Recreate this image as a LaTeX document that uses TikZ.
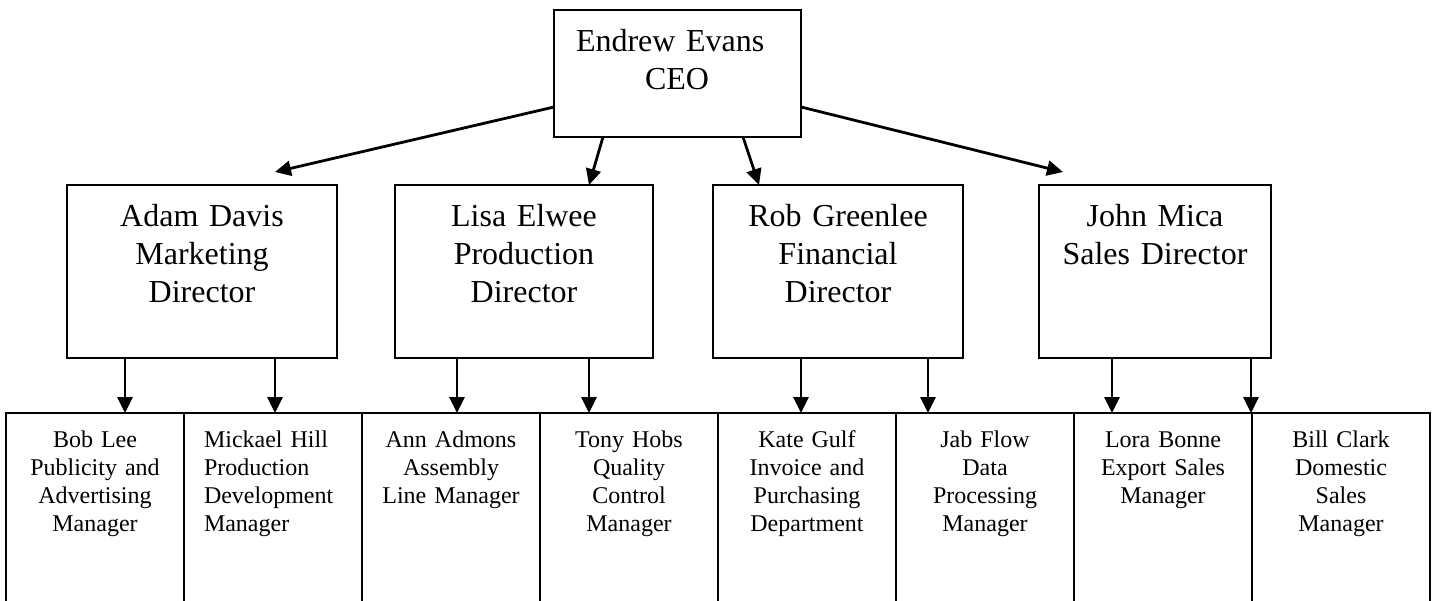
\documentclass[tikz,border=0pt]{standalone}
\usepackage{fontspec}
\setmainfont{Liberation Serif}
\usetikzlibrary{arrows.meta,positioning,calc}
\newcommand{\dirfont}{\fontsize{16}{19.2}\selectfont}
\newcommand{\mgrfont}{\fontsize{12}{14}\selectfont}
\tikzset{
  >={Triangle[length=8pt,width=7.5pt]},
  box/.style={draw=black,line width=1pt,outer sep=0pt,fill=white},
  arr/.style={->,draw=black,line width=1.4pt},
}

\begin{document}
\begin{tikzpicture}[x=0.5pt,y=-0.5pt,
  ceobox/.style={box,anchor=north,font=\dirfont,align=left,inner xsep=11pt,inner ysep=8.5pt,text width=101.5pt,text height=12pt,text depth=34.5pt},
  dirbox/.style={box,anchor=north,font=\dirfont,align=center,inner xsep=4pt,inner ysep=8.5pt,text width=#1,text height=12pt,text depth=57.5pt},
  mgrbox/.style={box,font=\mgrfont,align=center,inner xsep=7pt,inner ysep=8pt,text width=75pt,text height=9pt,text depth=78.5pt}]
\useasboundingbox (0,0) rectangle (1435,600);
\node[ceobox] (ceo) at (677.5,10) {Endrew Evans\\\hspace*{34.5pt}CEO};
\node[dirbox=127pt] (adam) at (202,185) {Adam Davis\\Marketing\\Director};
\node[dirbox=121pt] (lisa) at (524,185) {Lisa Elwee\\Production\\Director};
\node[dirbox=117pt] (rob) at (838,185) {Rob Greenlee\\Financial\\Director};
\node[dirbox=108pt] (john) at (1155,185) {John Mica\\Sales Director};
\node[mgrbox,anchor=north west] (bob) at (6,413) {Bob Lee\\Publicity and\\Advertising\\Manager};
\node[mgrbox,align=left,inner xsep=10pt,text width=69pt,right=0pt of bob] (mickael) {Mickael Hill\\Production\\Development\\Manager};
\node[mgrbox,right=0pt of mickael] (ann) {Ann Admons\\Assembly\\Line Manager};
\node[mgrbox,right=0pt of ann] (tony) {Tony Hobs\\Quality\\Control\\Manager};
\node[mgrbox,right=0pt of tony] (kate) {Kate Gulf\\Invoice and\\Purchasing\\Department};
\node[mgrbox,right=0pt of kate] (jab) {Jab Flow\\Data\\Processing\\Manager};
\node[mgrbox,right=0pt of jab] (lora) {Lora Bonne\\Export Sales\\Manager};
\node[mgrbox,right=0pt of lora] (bill) {Bill Clark\\Domestic\\Sales\\Manager};
\draw[arr] ($(ceo.south west)+(0,-30)$) -- ($(adam.north)+(73,-13)$);
\draw[arr] ($(ceo.south)+(-74.5,0)$) -- ($(lisa.north)+(65,0)$);
\draw[arr] ($(ceo.south)+(65.5,0)$) -- ($(rob.north)+(-79,0)$);
\draw[arr] ($(ceo.south east)+(0,-30)$) -- ($(john.north)+(-92,-13)$);
\draw[arr] ($(adam.south west)+(58,0)$) coordinate (t) -- (t |- bob.north);
\draw[arr] ($(adam.south west)+(208,0)$) coordinate (t) -- (t |- mickael.north);
\draw[arr] ($(lisa.south west)+(62,0)$) coordinate (t) -- (t |- ann.north);
\draw[arr] ($(lisa.south west)+(194,0)$) coordinate (t) -- (t |- tony.north);
\draw[arr] ($(rob.south west)+(88,0)$) coordinate (t) -- (t |- kate.north);
\draw[arr] ($(rob.south west)+(215,0)$) coordinate (t) -- (t |- jab.north);
\draw[arr] ($(john.south west)+(73,0)$) coordinate (t) -- (t |- lora.north);
\draw[arr] ($(john.south west)+(212,0)$) coordinate (t) -- (t |- bill.north);
\end{tikzpicture}
\end{document}
